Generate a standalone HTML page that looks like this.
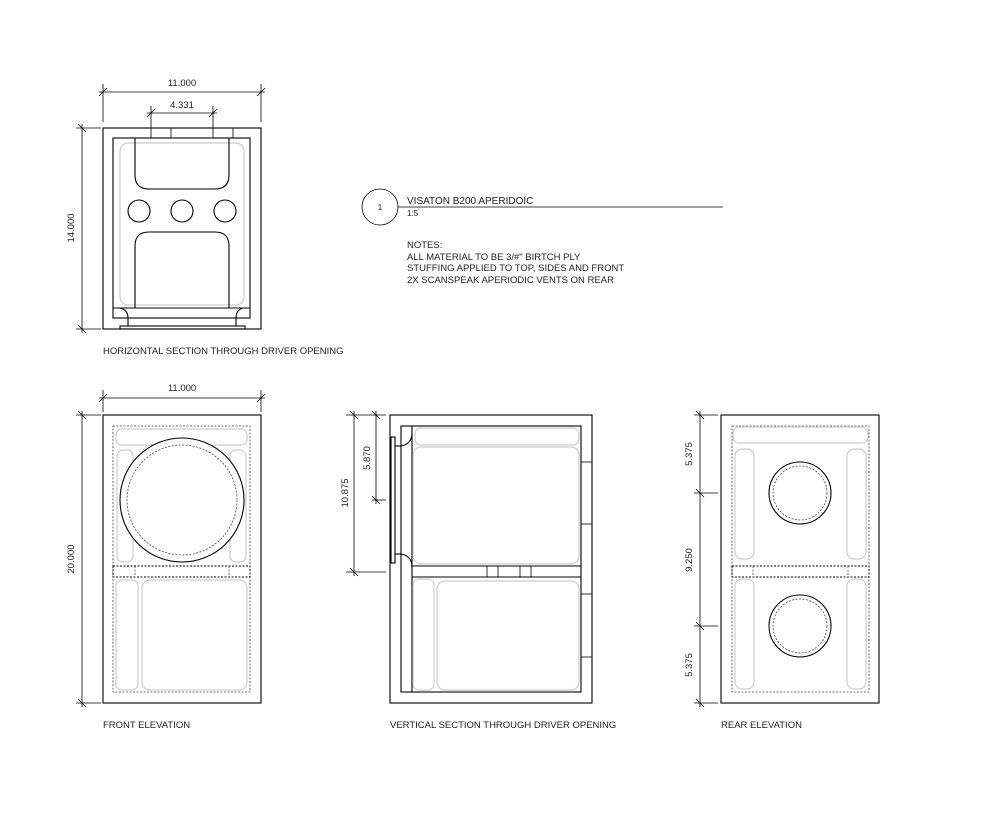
<!DOCTYPE html>
<html><head><meta charset="utf-8"><style>
html,body{margin:0;padding:0;background:#fff;}
svg{display:block;}
text{font-family:"Liberation Sans",sans-serif;font-size:9.5px;fill:#222;letter-spacing:0;}
.k{fill:none;stroke:#000;stroke-width:1.1;}
.t{fill:none;stroke:#000;stroke-width:0.8;}
.d{fill:none;stroke:#444;stroke-width:0.8;stroke-dasharray:2,1.5;}
.s{fill:none;stroke:#ccc;stroke-width:1.2;}
</style></head><body>
<svg width="1005" height="828" viewBox="0 0 1005 828" xmlns="http://www.w3.org/2000/svg">
<g>
<line class="t" x1="103" y1="84" x2="103" y2="122"/><line class="t" x1="261" y1="84" x2="261" y2="122"/>
<line class="t" x1="99" y1="92" x2="265" y2="92"/>
<line class="t" x1="99" y1="96" x2="107" y2="88"/><line class="t" x1="257" y1="96" x2="265" y2="88"/>
<text x="182" y="86" text-anchor="middle">11.000</text>
<line class="t" x1="151" y1="106" x2="151" y2="128"/><line class="t" x1="213" y1="106" x2="213" y2="128"/>
<line class="t" x1="147" y1="113" x2="217" y2="113"/>
<line class="t" x1="147" y1="117" x2="155" y2="109"/><line class="t" x1="209" y1="117" x2="217" y2="109"/>
<text x="182" y="108" text-anchor="middle">4.331</text>
<line class="t" x1="76" y1="128" x2="101" y2="128"/><line class="t" x1="76" y1="329" x2="101" y2="329"/>
<line class="t" x1="82" y1="124" x2="82" y2="333"/>
<line class="t" x1="78" y1="124" x2="86" y2="132"/><line class="t" x1="78" y1="325" x2="86" y2="333"/>
<text transform="translate(74,228) rotate(-90)" text-anchor="middle">14.000</text>
<rect class="k" x="103" y="128" width="158" height="201"/>
<rect class="k" x="113" y="138" width="137" height="180"/>
<line class="k" x1="113" y1="308" x2="250" y2="308"/>
<rect class="k" x="120" y="326" width="125" height="3"/>
<line class="t" x1="151" y1="128" x2="151" y2="138"/><line class="t" x1="171" y1="128" x2="171" y2="138"/>
<line class="t" x1="213" y1="128" x2="213" y2="138"/><line class="t" x1="233" y1="128" x2="233" y2="138"/>
<rect class="s" x="120" y="143" width="124" height="162" rx="8"/>
<path class="k" d="M135 138 V175 Q135 189 149 189 H215 Q229 189 229 175 V138"/>
<path class="k" d="M135 308 V246 Q135 232 149 232 H215 Q229 232 229 246 V308"/>
<circle class="k" cx="139" cy="211" r="11"/><circle class="k" cx="182" cy="211" r="11"/><circle class="k" cx="225" cy="211" r="11"/>
<path class="k" d="M120 308 Q128 310 128 318 V326"/><path class="k" d="M243 308 Q236 310 236 318 V326"/>
<text x="103" y="354">HORIZONTAL SECTION THROUGH DRIVER OPENING</text>
</g>
<circle class="t" cx="380" cy="207" r="18"/>
<text x="380" y="210" text-anchor="middle" style="font-size:8px">1</text>
<line class="t" x1="398" y1="207" x2="723" y2="207"/>
<text x="407" y="204" style="font-size:10px">VISATON B200 APERIDOIC</text>
<text x="407" y="216" style="font-size:8px">1:5</text>
<text x="407" y="248">NOTES:</text>
<text x="407" y="260">ALL MATERIAL TO BE 3/#" BIRTCH PLY</text>
<text x="407" y="271">STUFFING APPLIED TO TOP, SIDES AND FRONT</text>
<text x="407" y="283">2X SCANSPEAK APERIODIC VENTS ON REAR</text>
<g>
<line class="t" x1="103" y1="390" x2="103" y2="412"/><line class="t" x1="261" y1="390" x2="261" y2="412"/>
<line class="t" x1="99" y1="398" x2="265" y2="398"/>
<line class="t" x1="99" y1="402" x2="107" y2="394"/><line class="t" x1="257" y1="402" x2="265" y2="394"/>
<text x="182" y="391" text-anchor="middle">11.000</text>
<line class="t" x1="76" y1="415" x2="101" y2="415"/><line class="t" x1="76" y1="703" x2="101" y2="703"/>
<line class="t" x1="82" y1="411" x2="82" y2="707"/>
<line class="t" x1="78" y1="411" x2="86" y2="419"/><line class="t" x1="78" y1="699" x2="86" y2="707"/>
<text transform="translate(74,559) rotate(-90)" text-anchor="middle">20.000</text>
<rect class="k" x="103" y="415" width="158" height="288"/>
<rect class="d" x="113" y="426" width="137" height="266"/>
<rect class="s" x="116" y="429" width="131" height="16" rx="6"/>
<rect class="s" x="117" y="450" width="16" height="112" rx="6"/><rect class="s" x="230" y="450" width="16" height="112" rx="6"/>
<rect class="s" x="116" y="580" width="22" height="110" rx="6"/><rect class="s" x="142" y="580" width="105" height="110" rx="8"/>
<rect class="k" x="113" y="566" width="137" height="11" style="stroke-dasharray:2,1.5;stroke-width:0.9"/>
<line class="d" x1="135" y1="566" x2="135" y2="577"/><line class="d" x1="229" y1="566" x2="229" y2="577"/>
<circle cx="182" cy="500" r="62" style="fill:#fff;stroke:#000;stroke-width:1.1"/>
<circle class="d" cx="182" cy="500" r="55"/>
<text x="103" y="728">FRONT ELEVATION</text>
</g>
<g>
<line class="t" x1="346" y1="415" x2="386" y2="415"/><line class="t" x1="346" y1="572" x2="386" y2="572"/>
<line class="t" x1="354" y1="411" x2="354" y2="576"/>
<line class="t" x1="350" y1="411" x2="358" y2="419"/><line class="t" x1="350" y1="568" x2="358" y2="576"/>
<text transform="translate(348,493) rotate(-90)" text-anchor="middle">10.875</text>
<line class="t" x1="372" y1="500" x2="386" y2="500"/>
<line class="t" x1="376" y1="411" x2="376" y2="504"/>
<line class="t" x1="372" y1="411" x2="380" y2="419"/><line class="t" x1="372" y1="496" x2="380" y2="504"/>
<text transform="translate(370,458) rotate(-90)" text-anchor="middle">5.870</text>
<rect class="k" x="390" y="415" width="202" height="288"/>
<rect class="k" x="401" y="426" width="180" height="266"/>
<line class="k" x1="412" y1="426" x2="412" y2="692"/>
<rect class="k" x="391" y="437" width="4" height="126"/>
<line class="k" x1="395" y1="446" x2="401" y2="446"/><line class="k" x1="395" y1="554" x2="401" y2="554"/>
<path class="k" d="M401 446 Q412 444 412 433"/><path class="k" d="M401 554 Q412 556 412 567"/>
<line class="k" x1="412" y1="566" x2="581" y2="566"/><line class="k" x1="412" y1="577" x2="581" y2="577"/>
<line class="t" x1="487" y1="566" x2="487" y2="577"/><line class="t" x1="498" y1="566" x2="498" y2="577"/>
<line class="t" x1="520" y1="566" x2="520" y2="577"/><line class="t" x1="531" y1="566" x2="531" y2="577"/>
<line class="t" x1="581" y1="462" x2="592" y2="462"/><line class="t" x1="581" y1="524" x2="592" y2="524"/>
<line class="t" x1="581" y1="594" x2="592" y2="594"/><line class="t" x1="581" y1="657" x2="592" y2="657"/>
<rect class="s" x="415" y="428" width="164" height="17" rx="6"/>
<rect class="s" x="413" y="447" width="166" height="117" rx="8"/>
<rect class="s" x="413" y="579" width="21" height="111" rx="6"/>
<rect class="s" x="437" y="581" width="142" height="109" rx="8"/>
<text x="390" y="728">VERTICAL SECTION THROUGH DRIVER OPENING</text>
</g>
<g>
<line class="t" x1="694" y1="415" x2="718" y2="415"/><line class="t" x1="694" y1="493" x2="718" y2="493"/>
<line class="t" x1="694" y1="626" x2="718" y2="626"/><line class="t" x1="694" y1="703" x2="718" y2="703"/>
<line class="t" x1="700" y1="411" x2="700" y2="707"/>
<line class="t" x1="696" y1="411" x2="704" y2="419"/><line class="t" x1="696" y1="489" x2="704" y2="497"/>
<line class="t" x1="696" y1="622" x2="704" y2="630"/><line class="t" x1="696" y1="699" x2="704" y2="707"/>
<text transform="translate(692,454) rotate(-90)" text-anchor="middle">5.375</text>
<text transform="translate(692,560) rotate(-90)" text-anchor="middle">9.250</text>
<text transform="translate(692,665) rotate(-90)" text-anchor="middle">5.375</text>
<rect class="k" x="721" y="415" width="158" height="288"/>
<rect class="d" x="732" y="426" width="137" height="266"/>
<rect class="s" x="733" y="427" width="135" height="16" rx="6"/>
<rect class="s" x="735" y="449" width="19" height="110" rx="7"/><rect class="s" x="847" y="449" width="19" height="110" rx="7"/>
<rect class="s" x="735" y="579" width="19" height="110" rx="7"/><rect class="s" x="847" y="579" width="19" height="110" rx="7"/>
<rect class="k" x="732" y="566" width="137" height="11" style="stroke-dasharray:2,1.5;stroke-width:0.9"/>
<line class="d" x1="753" y1="566" x2="753" y2="577"/><line class="d" x1="848" y1="566" x2="848" y2="577"/>
<circle class="k" cx="800" cy="493" r="31"/><circle class="d" cx="800" cy="493" r="27"/>
<circle class="k" cx="800" cy="626" r="31"/><circle class="d" cx="800" cy="626" r="27"/>
<text x="721" y="728">REAR ELEVATION</text>
</g>
</svg>
</body></html>
